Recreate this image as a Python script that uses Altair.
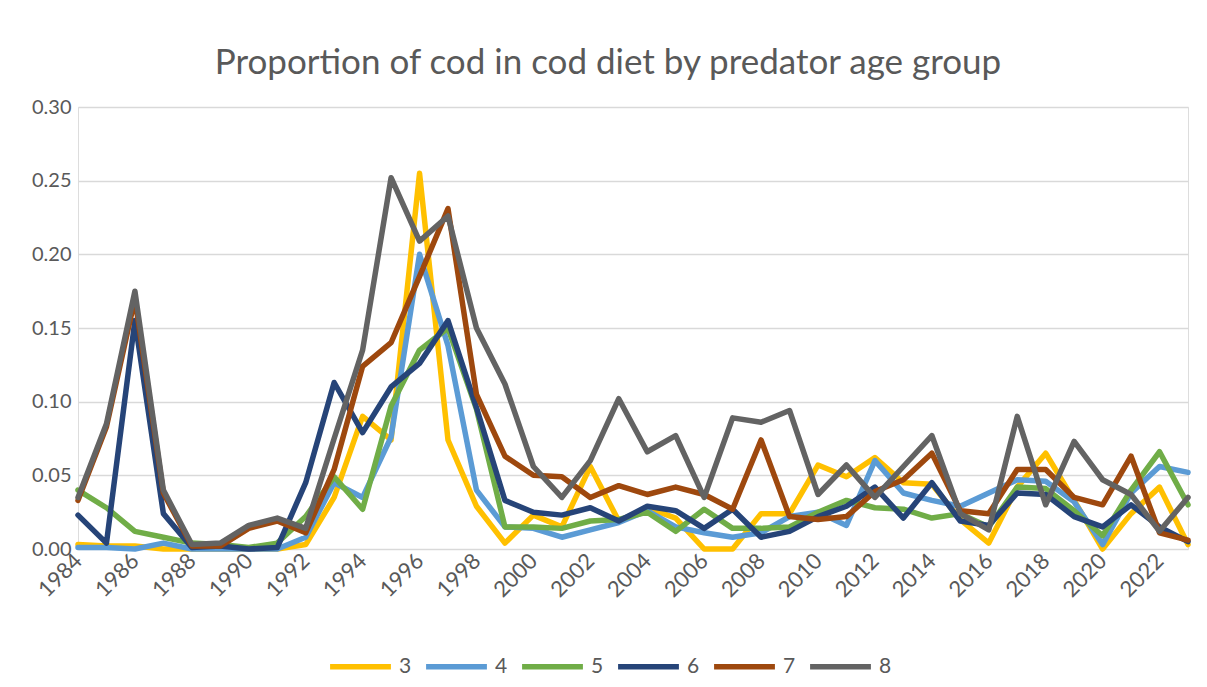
import altair as alt
import pandas as pd

years = list(range(1984, 2024))

s3 = [0.003, 0.002, 0.002, 0.000, 0.000, 0.000, 0.000, 0.000, 0.003, 0.035,
      0.090, 0.074, 0.255, 0.074, 0.029, 0.004, 0.023, 0.015, 0.056, 0.019,
      0.028, 0.021, 0.000, 0.000, 0.024, 0.024, 0.057, 0.049, 0.062, 0.045,
      0.044, 0.020, 0.004, 0.042, 0.065, 0.033, 0.000, 0.024, 0.042, 0.003]
s4 = [0.001, 0.001, 0.000, 0.004, 0.000, 0.000, 0.000, 0.000, 0.008, 0.045,
      0.035, 0.076, 0.200, 0.138, 0.040, 0.015, 0.014, 0.008, 0.013, 0.018,
      0.026, 0.015, 0.011, 0.008, 0.011, 0.022, 0.025, 0.016, 0.060, 0.038,
      0.033, 0.029, 0.038, 0.047, 0.046, 0.032, 0.003, 0.038, 0.056, 0.052]
s5 = [0.040, 0.028, 0.012, 0.008, 0.004, 0.003, 0.001, 0.004, 0.022, 0.049,
      0.027, 0.097, 0.135, 0.150, 0.095, 0.015, 0.015, 0.014, 0.019, 0.020,
      0.025, 0.012, 0.027, 0.014, 0.014, 0.015, 0.025, 0.033, 0.028, 0.027,
      0.021, 0.024, 0.015, 0.042, 0.041, 0.026, 0.009, 0.040, 0.066, 0.030]
s6 = [0.023, 0.004, 0.155, 0.024, 0.001, 0.002, 0.000, 0.001, 0.045, 0.113,
      0.079, 0.110, 0.126, 0.155, 0.096, 0.033, 0.025, 0.023, 0.028, 0.019,
      0.029, 0.026, 0.014, 0.027, 0.008, 0.012, 0.022, 0.029, 0.042, 0.021,
      0.045, 0.019, 0.016, 0.038, 0.037, 0.022, 0.015, 0.030, 0.015, 0.005]
s7 = [0.033, 0.083, 0.170, 0.038, 0.002, 0.002, 0.014, 0.019, 0.011, 0.054,
      0.124, 0.140, 0.185, 0.231, 0.105, 0.063, 0.050, 0.049, 0.035, 0.043,
      0.037, 0.042, 0.037, 0.027, 0.074, 0.022, 0.020, 0.022, 0.039, 0.047,
      0.065, 0.026, 0.024, 0.054, 0.054, 0.035, 0.030, 0.063, 0.011, 0.006]
s8 = [0.035, 0.085, 0.175, 0.040, 0.003, 0.004, 0.016, 0.021, 0.014, 0.075,
      0.135, 0.252, 0.209, 0.226, 0.150, 0.112, 0.056, 0.035, 0.060, 0.102,
      0.066, 0.077, 0.035, 0.089, 0.086, 0.094, 0.037, 0.057, 0.035, 0.056,
      0.077, 0.024, 0.013, 0.090, 0.030, 0.073, 0.047, 0.037, 0.012, 0.035]

series_names = ["3", "4", "5", "6", "7", "8"]
series_values = [s3, s4, s5, s6, s7, s8]
colors = ["#FFC000", "#5B9BD5", "#70AD47", "#264478", "#9E480E", "#636363"]
widths = [5.5, 5.5, 5.5, 5.5, 5.5, 6.5]
x_ticks = list(range(1984, 2023, 2))
y_ticks = [0.0, 0.05, 0.10, 0.15, 0.20, 0.25, 0.30]

rows = []
for order, (name, vals) in enumerate(zip(series_names, series_values)):
    for yr, v in zip(years, vals):
        rows.append({"year": yr, "value": v, "group": name, "order": order})
df = pd.DataFrame(rows)

FONT = "Lato"
TXT = "#595959"

chart = alt.Chart(df).mark_line(
    strokeJoin="round", strokeCap="round"
).encode(
    x=alt.X("year:Q",
            scale=alt.Scale(domain=[1984, 2023], nice=False, zero=False),
            axis=alt.Axis(values=x_ticks, format="d", labelAngle=-45,
                          labelAlign="right", labelBaseline="middle",
                          labelPadding=8, grid=False, ticks=False, domain=False,
                          labelFontSize=22, labelColor=TXT, labelFont=FONT,
                          title=None)),
    y=alt.Y("value:Q",
            scale=alt.Scale(domain=[0, 0.30], nice=False),
            axis=alt.Axis(values=y_ticks, format=".2f", grid=True,
                          gridColor="#D9D9D9", gridWidth=1.3, ticks=False,
                          domain=False, labelPadding=7, labelFontSize=20,
                          labelColor=TXT, labelFont=FONT, title=None)),
    color=alt.Color("group:N",
                    scale=alt.Scale(domain=series_names, range=colors),
                    legend=alt.Legend(orient="none", legendX=249, legendY=526,
                                      direction="horizontal", title=None,
                                      symbolType="stroke", symbolSize=3700,
                                      symbolStrokeWidth=6, labelFontSize=21,
                                      labelFont=FONT, labelColor=TXT,
                                      labelOffset=5, columnPadding=3,
                                      padding=0)),
    strokeWidth=alt.StrokeWidth("group:N",
                                scale=alt.Scale(domain=series_names, range=widths),
                                legend=None),
    order=alt.Order("order:Q"),
).properties(
    width=1110,
    height=442,
    title=alt.TitleParams(
        "Proportion of cod in cod diet by predator age group",
        font=FONT, fontSize=35, fontWeight="normal", color=TXT,
        anchor="middle", dx=-25, offset=16,
    ),
    autosize=alt.AutoSizeParams(type="none"),
    padding={"left": 70, "top": 99, "right": 5, "bottom": 128},
).configure_view(stroke=None).configure(background="white")

chart.save("out.html", embed_options={"renderer": "svg", "actions": False})
